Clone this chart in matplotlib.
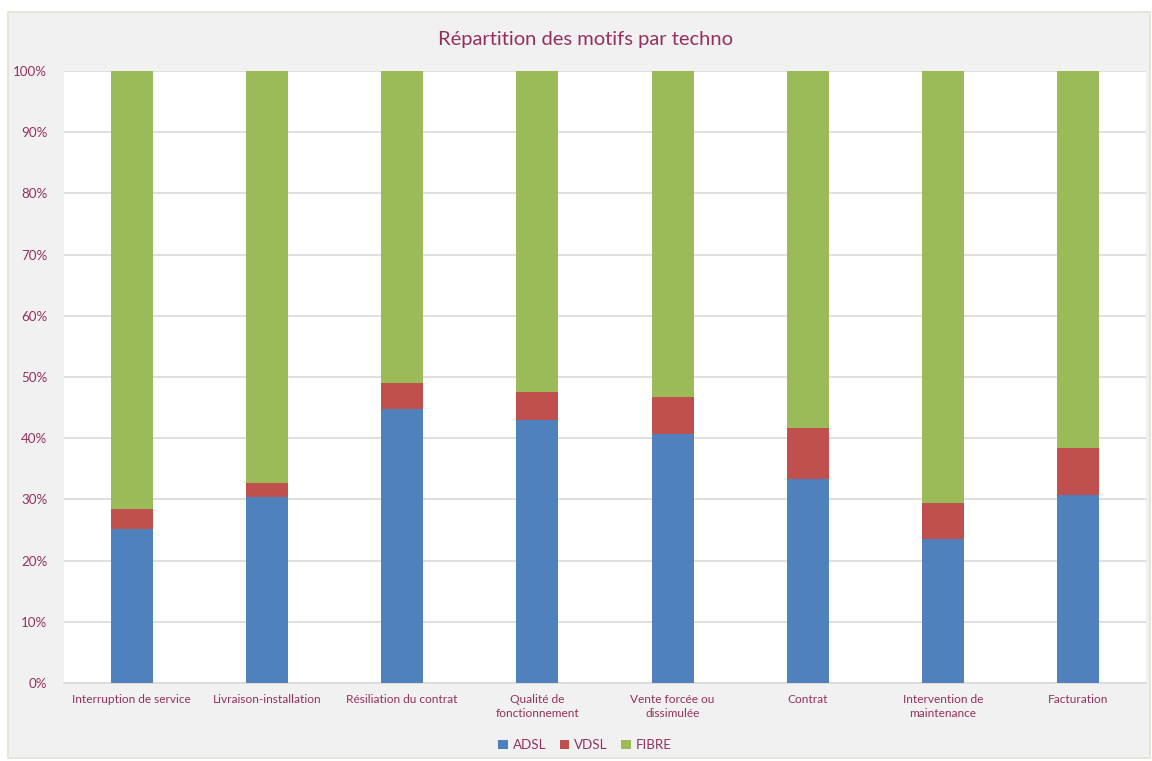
import numpy as np
import matplotlib.pyplot as plt
from matplotlib.patches import Rectangle
from matplotlib.ticker import PercentFormatter

categories = ['Interruption de service', 'Livraison-installation', 'Résiliation du contrat',
              'Qualité de\nfonctionnement', 'Vente forcée ou\ndissimulée', 'Contrat',
              'Intervention de\nmaintenance', 'Facturation']
adsl = [25.2, 30.4, 44.8, 42.9, 40.7, 33.3, 23.5, 30.7]
vdsl = [3.2, 2.3, 4.2, 4.6, 6.1, 8.3, 5.9, 7.7]
fibre = [100 - a - v for a, v in zip(adsl, vdsl)]

txt = '#94305F'
plt.rcParams['font.family'] = ['Lato', 'DejaVu Sans']

fig = plt.figure(figsize=(11.52, 7.61), dpi=100, facecolor='white')
fig.patches.append(Rectangle((8 / 1152, 3 / 761), 1142 / 1152, 746 / 761,
                             transform=fig.transFigure, facecolor='#F1F1F1',
                             edgecolor='#E4E2D2', linewidth=1.2, zorder=-1))
ax = fig.add_axes([64 / 1152, 78 / 761, 1082 / 1152, 612 / 761])
ax.set_facecolor('white')

x = np.arange(len(categories))
w = 0.31
ax.bar(x, adsl, w, color='#4F81BD', label='ADSL', zorder=3)
ax.bar(x, vdsl, w, bottom=adsl, color='#C0504D', label='VDSL', zorder=3)
ax.bar(x, fibre, w, bottom=np.add(adsl, vdsl), color='#9BBB59', label='FIBRE', zorder=3)

ax.set_xlim(-0.5, len(categories) - 0.5)
ax.set_ylim(0, 100)
ax.set_yticks(np.arange(0, 101, 10))
ax.yaxis.set_major_formatter(PercentFormatter(decimals=0))
ax.set_xticks(x)
ax.set_xticklabels(categories, fontsize=8.6, color=txt, linespacing=1.35)
ax.tick_params(axis='y', labelsize=9.6, colors=txt, length=0, pad=12)
ax.tick_params(axis='x', length=0, pad=8)
ax.grid(axis='y', color='#D9D9D9', linewidth=1.2, zorder=0)
for s in ['top', 'left', 'right']:
    ax.spines[s].set_visible(False)
ax.spines['bottom'].set_color('#D9D9D9')
ax.spines['bottom'].set_linewidth(1.2)

fig.text(585 / 1152, 1 - 40 / 761, 'Répartition des motifs par techno', ha='center', va='center',
         fontsize=14.5, color=txt)

leg = fig.legend(loc='center', bbox_to_anchor=(585 / 1152, 1 - 745 / 761), ncol=3, frameon=False,
                 fontsize=9.6, handlelength=0.7, handleheight=0.7, handletextpad=0.4,
                 columnspacing=1.0)
for t in leg.get_texts():
    t.set_color(txt)

fig.savefig('out.png', dpi=100, facecolor=fig.get_facecolor())
